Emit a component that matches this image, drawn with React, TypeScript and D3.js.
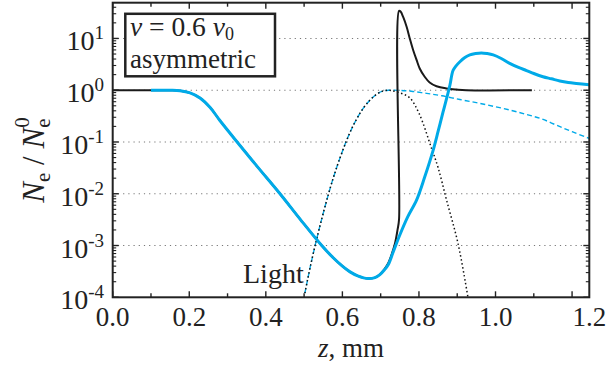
import React from 'react';
import * as d3 from 'd3';

// ---------- data ----------
const xMajorTicks = [0, 0.2, 0.4, 0.6, 0.8, 1.0, 1.2];
const xMinorTicks = [0.1, 0.3, 0.5, 0.7, 0.9, 1.1];
const xTickLabels = ['0.0', '0.2', '0.4', '0.6', '0.8', '1.0', '1.2'];
const yDecades = [1e-4, 1e-3, 1e-2, 1e-1, 1, 10];
const yExpLabels = ['-4', '-3', '-2', '-1', '0', '1'];
const yGridDecades = [1e-3, 1e-2, 1e-1, 1, 10];

// blue solid: asymmetric light, electron density
const blueZ = [0.10, 0.15, 0.176, 0.202, 0.228, 0.254, 0.28, 0.325, 0.38, 0.437, 0.49, 0.546, 0.576, 0.60, 0.62, 0.64, 0.667, 0.685, 0.698, 0.71, 0.72, 0.733, 0.75, 0.77, 0.794, 0.815, 0.837, 0.85, 0.863, 0.875, 0.881, 0.889, 0.897, 0.907, 0.92, 0.933, 0.948, 0.963, 0.978, 0.994, 1.015, 1.037, 1.06, 1.081, 1.10, 1.124, 1.146, 1.168, 1.19, 1.211, 1.245];
const blueN = [1.0, 1.0, 0.98, 0.89, 0.71, 0.47, 0.26, 0.1, 0.032, 0.01, 0.0032, 1.0e-3, 5.8e-4, 4.0e-4, 3.1e-4, 2.6e-4, 2.3e-4, 2.4e-4, 2.75e-4, 3.4e-4, 4.3e-4, 7.6e-4, 1.6e-3, 3.5e-3, 7.6e-3, 0.021, 0.069, 0.16, 0.38, 0.83, 1.26, 2.4, 2.95, 3.55, 4.27, 4.8, 5.1, 5.25, 5.1, 4.8, 4.1, 3.3, 2.75, 2.4, 2.1, 1.82, 1.66, 1.51, 1.41, 1.35, 1.27];

// black solid: symmetric light, electron density
const blackZ = [0.0, 0.10, 0.15, 0.176, 0.202, 0.228, 0.254, 0.28, 0.325, 0.38, 0.437, 0.49, 0.546, 0.576, 0.60, 0.62, 0.64, 0.667, 0.685, 0.698, 0.71, 0.72, 0.73, 0.738, 0.744, 0.748, 0.748, 0.752, 0.759, 0.768, 0.776, 0.785, 0.794, 0.802, 0.815, 0.828, 0.846, 0.872, 0.898, 0.924, 1.095];
const blackN = [1.0, 1.0, 1.0, 0.98, 0.89, 0.71, 0.47, 0.26, 0.1, 0.032, 0.01, 0.0032, 1.0e-3, 5.8e-4, 4.0e-4, 3.1e-4, 2.6e-4, 2.3e-4, 2.4e-4, 2.75e-4, 3.5e-4, 4.6e-4, 7.2e-4, 1.15e-3, 2.0e-3, 3.2e-3, 34, 33, 25.7, 16.6, 10, 5.9, 3.8, 2.63, 1.82, 1.41, 1.19, 1.08, 1.03, 1.0, 1.0];

// blue dashed: asymmetric light pulse
const lightAsymZ = [0.502, 0.518, 0.533, 0.548, 0.563, 0.576, 0.59, 0.611, 0.63, 0.65, 0.67, 0.69, 0.705, 0.72, 0.75, 0.78, 0.82, 0.86, 0.907, 0.95, 0.994, 1.04, 1.081, 1.12, 1.16, 1.20, 1.245];
const lightAsymN = [1.2e-4, 4.5e-4, 1.35e-3, 3.7e-3, 9.5e-3, 0.02, 0.041, 0.107, 0.22, 0.40, 0.62, 0.84, 0.96, 1.0, 0.99, 0.955, 0.87, 0.78, 0.66, 0.575, 0.49, 0.41, 0.34, 0.28, 0.21, 0.158, 0.117];

// black dotted: symmetric light pulse
const lightSymZ = [0.502, 0.518, 0.533, 0.548, 0.563, 0.576, 0.59, 0.611, 0.63, 0.65, 0.67, 0.69, 0.705, 0.72, 0.73, 0.75, 0.776, 0.80, 0.833, 0.85, 0.872, 0.902, 0.928];
const lightSymN = [1.2e-4, 4.5e-4, 1.35e-3, 3.7e-3, 9.5e-3, 0.02, 0.041, 0.107, 0.22, 0.40, 0.62, 0.84, 0.96, 1.0, 0.98, 0.89, 0.71, 0.36, 0.075, 0.032, 7.6e-3, 1.1e-3, 1.0e-4];

// ---------- layout ----------
const W = 608;
const H = 374;
const L = 112.7, R = 589.3, T = 2.7, B = 297.3;
const BLUE = '#00AAE8';
const FONT = "'Liberation Serif', 'Times New Roman', serif";
const FS = 28;

export default function App() {
  const x = d3.scaleLinear().domain([0, 1.245]).range([L, R]);
  const y = d3.scaleLog().domain([1e-4, 49]).range([B, T]);

  const mk = (zs: number[], ns: number[]) =>
    d3.line<number>()
      .x((_, i) => x(zs[i]))
      .y((_, i) => y(ns[i]))
      .curve(d3.curveCatmullRom.alpha(0.5))(zs) || '';

  const minorY: number[] = [];
  for (let e = -4; e <= 1; e++) {
    for (let m = 2; m <= 9; m++) {
      const v = m * Math.pow(10, e);
      if (v < 49) minorY.push(v);
    }
  }

  return (
    <svg width={W} height={H} style={{ position: 'absolute', left: 0, top: 0, background: '#fff' }}
      fontFamily={FONT} fontSize={FS} fill="#222">
      <defs>
        <clipPath id="plotclip">
          <rect x={L} y={T} width={R - L} height={B - T} />
        </clipPath>
      </defs>
      <rect x={0} y={0} width={W} height={H} fill="#fff" />

      {/* grid */}
      {yGridDecades.map((v, i) => (
        <line key={'g' + i} x1={L} x2={R} y1={y(v)} y2={y(v)} stroke="#777" strokeWidth={1.1} strokeDasharray="1.2 4" />
      ))}

      {/* curves */}
      <g clipPath="url(#plotclip)" fill="none">
        <path d={mk(lightAsymZ, lightAsymN)} stroke={BLUE} strokeWidth={1.4} strokeDasharray="5 3" />
        <path d={mk(lightSymZ, lightSymN)} stroke="#111" strokeWidth={1.5} strokeDasharray="1.5 2.5" />
        <path d={mk(blackZ, blackN)} stroke="#1a1a1a" strokeWidth={2} />
        <path d={mk(blueZ, blueN)} stroke={BLUE} strokeWidth={3} />
      </g>

      {/* ticks */}
      {xMajorTicks.map((v, i) => (
        <g key={'xm' + i}>
          <line x1={x(v)} x2={x(v)} y1={B} y2={B - 6} stroke="#222" strokeWidth={1.4} />
          <line x1={x(v)} x2={x(v)} y1={T} y2={T + 6} stroke="#222" strokeWidth={1.4} />
        </g>
      ))}
      {xMinorTicks.map((v, i) => (
        <g key={'xn' + i}>
          <line x1={x(v)} x2={x(v)} y1={B} y2={B - 4} stroke="#222" strokeWidth={1.4} />
          <line x1={x(v)} x2={x(v)} y1={T} y2={T + 4} stroke="#222" strokeWidth={1.4} />
        </g>
      ))}
      {yDecades.map((v, i) => (
        <g key={'ym' + i}>
          <line x1={L} x2={L + 6} y1={y(v)} y2={y(v)} stroke="#222" strokeWidth={1.4} />
          <line x1={R} x2={R - 6} y1={y(v)} y2={y(v)} stroke="#222" strokeWidth={1.4} />
        </g>
      ))}
      {minorY.map((v, i) => (
        <g key={'yn' + i}>
          <line x1={L} x2={L + 3.5} y1={y(v)} y2={y(v)} stroke="#222" strokeWidth={1.1} />
          <line x1={R} x2={R - 3.5} y1={y(v)} y2={y(v)} stroke="#222" strokeWidth={1.1} />
        </g>
      ))}

      {/* frame */}
      <rect x={L} y={T} width={R - L} height={B - T} fill="none" stroke="#222" strokeWidth={2} />

      {/* x tick labels */}
      {xMajorTicks.map((v, i) => (
        <text key={'xl' + i} x={i === xMajorTicks.length - 1 ? x(1.245) : x(v)} y={B + 29} textAnchor="middle" fontSize={27}>
          {xTickLabels[i]}
        </text>
      ))}

      {/* y tick labels */}
      {yDecades.map((v, i) => (
        <text key={'yl' + i} x={104} y={y(v) + 12} textAnchor="end">
          10<tspan fontSize={19} dy={-11}>{yExpLabels[i]}</tspan>
        </text>
      ))}

      {/* axis titles */}
      <text x={(L + R) / 2} y={357} textAnchor="middle" fontSize={27}>
        <tspan fontStyle="italic">z</tspan>, mm
      </text>
      <text transform="translate(44,160) rotate(-90)" textAnchor="middle" fontSize={31}>
        <tspan fontStyle="italic">N</tspan>
        <tspan fontSize={21} dy={6}>e</tspan>
        <tspan dy={-6}> / </tspan>
        <tspan fontStyle="italic">N</tspan>
        <tspan fontSize={21} dy={6}>e</tspan>
        <tspan fontSize={21} dx={-9.3} dy={-21}>0</tspan>
      </text>

      {/* Light label */}
      <text x={243} y={283}>Light</text>

      {/* legend box */}
      <rect x={125.3} y={13.8} width={149.7} height={62.5} fill="#fff" stroke="#222" strokeWidth={2.5} />
      <text x={130} y={36} fontSize={27.5}>
        <tspan fontStyle="italic">v</tspan> = 0.6 <tspan fontStyle="italic">v</tspan><tspan fontSize={18} dy={4}>0</tspan>
      </text>
      <text x={130} y={68} fontSize={27}>asymmetric</text>
    </svg>
  );
}
